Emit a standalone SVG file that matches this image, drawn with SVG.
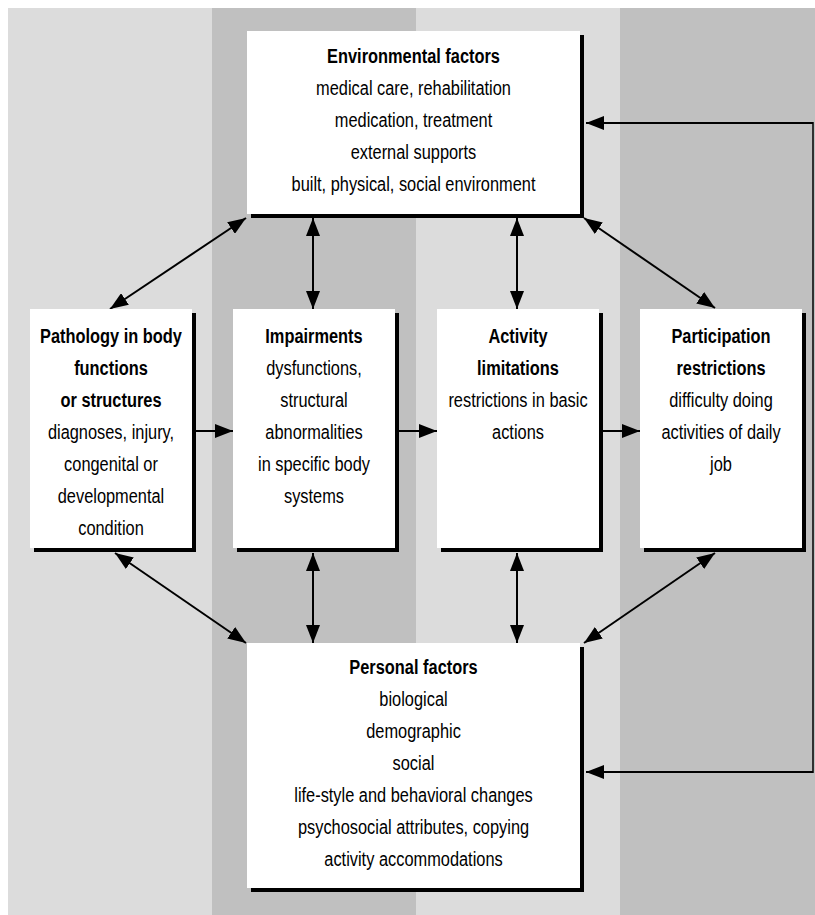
<svg xmlns="http://www.w3.org/2000/svg" width="815" height="915" viewBox="0 0 815 915">
<style>
text{font-family:"Liberation Sans",Arial,sans-serif;font-size:21px;fill:#000;text-anchor:middle}
.b{font-weight:bold}
.box{fill:#fff}
.sh{fill:#000}
.c{fill:none;stroke:#000;stroke-width:2}
.lt{fill:#dcdcdc}
.dk{fill:#c0c0c0}
</style>
<defs>
<marker id="ah" viewBox="0 0 18 14" refX="18" refY="7" markerWidth="18" markerHeight="14" markerUnits="userSpaceOnUse" orient="auto-start-reverse">
<path d="M0,0 L18,7 L0,14 z" fill="#000"/>
</marker>
</defs>
<g id="background">
<rect class="lt" x="8" y="8" width="204" height="907"/>
<rect class="dk" x="212" y="8" width="204" height="907"/>
<rect class="lt" x="416" y="8" width="204" height="907"/>
<rect class="dk" x="620" y="8" width="195" height="907"/>
</g>
<g id="connectors">
<line class="c" x1="196" y1="431" x2="233" y2="431" marker-end="url(#ah)"/>
<line class="c" x1="399" y1="431" x2="437" y2="431" marker-end="url(#ah)"/>
<line class="c" x1="603" y1="431" x2="640" y2="431" marker-end="url(#ah)"/>
<line class="c" x1="246" y1="218" x2="110" y2="309" marker-start="url(#ah)" marker-end="url(#ah)"/>
<line class="c" x1="313" y1="218" x2="313" y2="309" marker-start="url(#ah)" marker-end="url(#ah)"/>
<line class="c" x1="517" y1="218" x2="517" y2="309" marker-start="url(#ah)" marker-end="url(#ah)"/>
<line class="c" x1="584" y1="218" x2="715" y2="308" marker-start="url(#ah)" marker-end="url(#ah)"/>
<line class="c" x1="115" y1="553" x2="246" y2="643" marker-start="url(#ah)" marker-end="url(#ah)"/>
<line class="c" x1="313" y1="553" x2="313" y2="643" marker-start="url(#ah)" marker-end="url(#ah)"/>
<line class="c" x1="517" y1="553" x2="517" y2="643" marker-start="url(#ah)" marker-end="url(#ah)"/>
<line class="c" x1="715" y1="553" x2="584" y2="643" marker-start="url(#ah)" marker-end="url(#ah)"/>
<line class="c" x1="813" y1="123" x2="586" y2="123" marker-end="url(#ah)"/>
<line class="c" x1="813" y1="772" x2="586" y2="772" marker-end="url(#ah)"/>
<line x1="813" y1="122" x2="813" y2="773" stroke="#000" stroke-width="1.5"/>
</g>
<g id="environmental">
<rect class="sh" x="251" y="35" width="333" height="183"/>
<rect class="box" x="247" y="31" width="333" height="183"/>
<g transform="translate(413.5 0) scale(0.78 1)">
<text x="0" y="63" class="b">Environmental factors</text>
<text x="0" y="95">medical care, rehabilitation</text>
<text x="0" y="127">medication, treatment</text>
<text x="0" y="159">external supports</text>
<text x="0" y="191">built, physical, social environment</text>
</g>
</g>
<g id="pathology">
<rect class="sh" x="34" y="313" width="162" height="239"/>
<rect class="box" x="30" y="309" width="162" height="239"/>
<g transform="translate(111 0) scale(0.78 1)">
<text x="0" y="343" class="b">Pathology in body</text>
<text x="0" y="375" class="b">functions</text>
<text x="0" y="407" class="b">or structures</text>
<text x="0" y="439">diagnoses, injury,</text>
<text x="0" y="471">congenital or</text>
<text x="0" y="503">developmental</text>
<text x="0" y="535">condition</text>
</g>
</g>
<g id="impairments">
<rect class="sh" x="237" y="313" width="162" height="239"/>
<rect class="box" x="233" y="309" width="162" height="239"/>
<g transform="translate(314 0) scale(0.78 1)">
<text x="0" y="343" class="b">Impairments</text>
<text x="0" y="375">dysfunctions,</text>
<text x="0" y="407">structural</text>
<text x="0" y="439">abnormalities</text>
<text x="0" y="471">in specific body</text>
<text x="0" y="503">systems</text>
</g>
</g>
<g id="activity">
<rect class="sh" x="441" y="313" width="162" height="239"/>
<rect class="box" x="437" y="309" width="162" height="239"/>
<g transform="translate(518 0) scale(0.78 1)">
<text x="0" y="343" class="b">Activity</text>
<text x="0" y="375" class="b">limitations</text>
<text x="0" y="407">restrictions in basic</text>
<text x="0" y="439">actions</text>
</g>
</g>
<g id="participation">
<rect class="sh" x="644" y="313" width="162" height="239"/>
<rect class="box" x="640" y="309" width="162" height="239"/>
<g transform="translate(721 0) scale(0.78 1)">
<text x="0" y="343" class="b">Participation</text>
<text x="0" y="375" class="b">restrictions</text>
<text x="0" y="407">difficulty doing</text>
<text x="0" y="439">activities of daily</text>
<text x="0" y="471">job</text>
</g>
</g>
<g id="personal">
<rect class="sh" x="251" y="647" width="333" height="245"/>
<rect class="box" x="247" y="643" width="333" height="245"/>
<g transform="translate(413.5 0) scale(0.78 1)">
<text x="0" y="674" class="b">Personal factors</text>
<text x="0" y="706">biological</text>
<text x="0" y="738">demographic</text>
<text x="0" y="770">social</text>
<text x="0" y="802">life-style and behavioral changes</text>
<text x="0" y="834">psychosocial attributes, copying</text>
<text x="0" y="866">activity accommodations</text>
</g>
</g>
</svg>
